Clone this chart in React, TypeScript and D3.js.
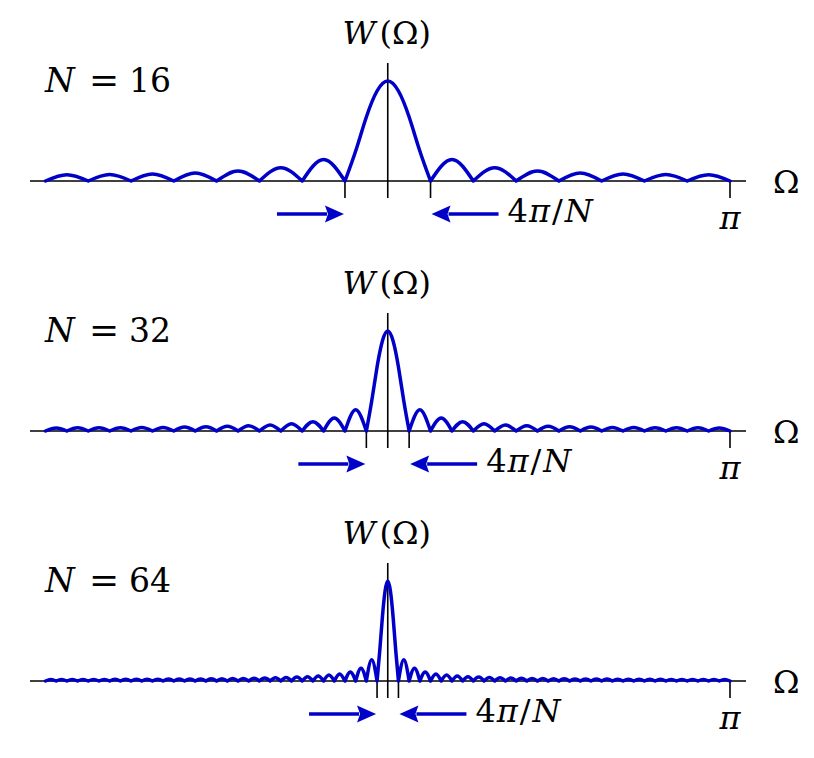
import * as d3 from "d3";

// window lengths shown in the three panels
const windowLengths = [16, 32, 64];
const windowLabels = ["16", "32", "64"];

// main lobe profile, sampled at fractions of its half width (zero at ±1)
const mainLobeU = [-1, -0.75, -0.5, -0.25, 0, 0.25, 0.5, 0.75, 1];
const mainLobeShape = [0, 0.3, 0.64, 0.9, 1, 0.9, 0.64, 0.3, 0];

// side lobe peak heights (relative to main peak), from the centre outwards
const sideLobes16 = [0.215, 0.133, 0.099, 0.081, 0.071, 0.065, 0.063];
const sideLobes32 = [
  0.213, 0.129, 0.093, 0.073, 0.061, 0.053, 0.047, 0.042, 0.039, 0.036,
  0.035, 0.033, 0.032, 0.032, 0.031,
];
const sideLobes64 = [
  0.212, 0.128, 0.091, 0.071, 0.059, 0.05, 0.043, 0.039, 0.035, 0.032,
  0.029, 0.027, 0.025, 0.024, 0.023, 0.022, 0.021, 0.02, 0.019, 0.019,
  0.018, 0.018, 0.017, 0.017, 0.017, 0.016, 0.016, 0.016, 0.016, 0.016,
  0.016,
];
const sideLobes = [sideLobes16, sideLobes32, sideLobes64];

const BLUE = "#0000c8";
const FONT = "DejaVu Serif";
const FS = 32;

const x = d3.scaleLinear().domain([-Math.PI, Math.PI]).range([45.5, 730]);

interface PanelProps {
  n: number;
  label: string;
  lobes: number[];
  y0: number;
}

function Arrow({ tail, tip, y }: { tail: number; tip: number; y: number }) {
  const dir = tip > tail ? 1 : -1;
  const headLen = 19;
  const headHalf = 8.5;
  const back = tip - dir * headLen;
  return (
    <g>
      <line x1={tail} y1={y} x2={back + dir * 2} y2={y} stroke={BLUE} strokeWidth={3.6} />
      <polygon
        points={`${tip},${y} ${back},${y - headHalf} ${back + dir * 3},${y} ${back},${y + headHalf}`}
        fill={BLUE}
      />
    </g>
  );
}

function Panel({ n, label, lobes, y0 }: PanelProps) {
  const y = d3.scaleLinear().domain([0, 1]).range([y0, y0 - 100]);
  const dz = (2 * Math.PI) / n;
  const line = d3
    .line<[number, number]>()
    .x((d) => x(d[0]))
    .y((d) => y(d[1]))
    .curve(d3.curveNatural);

  const paths: string[] = [];
  paths.push(line(mainLobeU.map((u, i) => [u * dz, mainLobeShape[i]] as [number, number])) || "");
  lobes.forEach((h, k) => {
    const a = (k + 1) * dz;
    const b = (k + 2) * dz;
    paths.push(line([[a, 0], [(a + b) / 2, h], [b, 0]]) || "");
    paths.push(line([[-b, 0], [-(a + b) / 2, h], [-a, 0]]) || "");
  });

  const cx = x(0);
  const tipL = x(-dz) - 1;
  const tipR = x(dz) + 1;
  const arrowY = y0 + 33;

  return (
    <g>
      {/* axes */}
      <line x1={30} x2={746} y1={y0} y2={y0} stroke="#000" strokeWidth={1.6} />
      <line x1={cx} x2={cx} y1={y0 - 118} y2={y0 + 17} stroke="#000" strokeWidth={1.6} />
      {[-dz, dz, Math.PI].map((v) => (
        <line key={v} x1={x(v)} x2={x(v)} y1={y0} y2={y0 + 17} stroke="#000" strokeWidth={1.6} />
      ))}
      <path
        d={paths.join("")}
        fill="none"
        stroke={BLUE}
        strokeWidth={3.5}
        strokeLinejoin="round"
        strokeLinecap="round"
      />
      <Arrow tail={tipL - 67} tip={tipL} y={arrowY} />
      <Arrow tail={tipR + 67} tip={tipR} y={arrowY} />
      <g style={{ fontFamily: FONT, fontSize: FS }} fill="#000">
        <text x={45} y={y0 - 89} fontStyle="italic" fontSize={34}>N</text>
        <text x={104} y={y0 - 89} textAnchor="middle" fontSize={36}>=</text>
        <text x={129} y={y0 - 89} fontSize={33}>{label}</text>
        <text x={cx - 1} y={y0 - 137} textAnchor="middle">
          <tspan fontStyle="italic">W</tspan>
          <tspan dx={4}>(Ω)</tspan>
        </text>
        <text x={tipR + 76} y={y0 + 41}>
          <tspan>4</tspan>
          <tspan fontStyle="italic" dx={1}>π</tspan>
          <tspan dx={2}>/</tspan>
          <tspan fontStyle="italic" dx={2}>N</tspan>
        </text>
        <text x={x(Math.PI)} y={y0 + 48} textAnchor="middle" fontStyle="italic">π</text>
        <text x={773} y={y0 + 12}>Ω</text>
      </g>
    </g>
  );
}

export default function App() {
  return (
    <svg
      width={814}
      height={758}
      style={{ position: "absolute", left: 0, top: 0, background: "#fff" }}
    >
      {windowLengths.map((n, i) => (
        <Panel key={n} n={n} label={windowLabels[i]} lobes={sideLobes[i]} y0={181 + i * 250} />
      ))}
    </svg>
  );
}
